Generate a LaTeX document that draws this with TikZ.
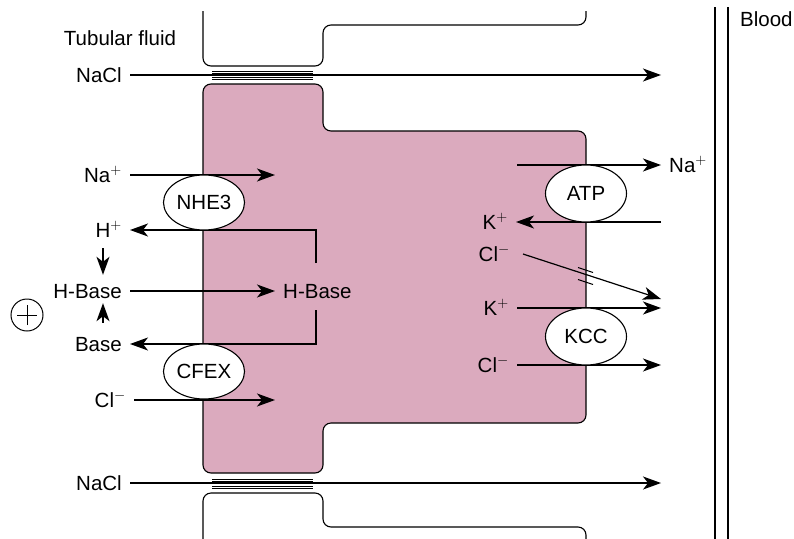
\documentclass[tikz,border=0pt]{standalone}
\usepackage{fontspec}
\setmainfont{Liberation Sans}
\usetikzlibrary{arrows.meta,shapes.geometric}
\definecolor{cellpink}{RGB}{219,170,190}
\begin{document}
\begin{tikzpicture}[x=1pt,y=-1pt,
  lbl/.style={inner ysep=0pt, inner xsep=8pt, text height=14pt, text depth=0pt, font=\fontsize{20.5}{24}\selectfont},
  arr/.style={line width=1.2pt, -{Stealth[length=18pt,width=13pt,inset=5pt]}},
  wall/.style={line width=1.1pt, rounded corners=8pt},
  tj/.style={line width=1pt},
  pump/.style={ellipse, draw, fill=white, line width=1.1pt, minimum width=81pt, minimum height=55pt, inner sep=0pt, font=\fontsize{20.5}{24}\selectfont}]
\useasboundingbox (0,0) rectangle (794,538);
% cell
\draw[wall, fill=cellpink] (203,84) -- (323,84) -- (323,131) -- (586,131) -- (586,423) -- (323,423) -- (323,473) -- (203,473) -- cycle;
\draw[wall] (203,11) -- (203,66) -- (323,66) -- (323,25) -- (586,25) -- (586,11);
\draw[wall] (203,540) -- (203,493) -- (323,493) -- (323,527) -- (586,527) -- (586,540);
% tight junctions
\foreach \yy in {71,73,77,79,479,481,486,488} \draw[tj] (212,\yy) -- (313,\yy);
% blood vessel wall
\draw[line width=1.1pt] (715,7) -- (715,540);
\draw[line width=1.1pt] (728,7) -- (728,540);
\node[lbl, inner sep=0pt, anchor=west] (blood) at (740,20) {Blood};
\node[lbl] (tf) at (120,38) {Tubular fluid};
% left labels
\node[lbl, anchor=east] (naclT) at (130,75) {NaCl};
\node[lbl, anchor=east] (nal) at (130,175) {Na$^+$};
\node[lbl, anchor=east] (hp) at (130,230) {H$^+$};
\node[lbl, anchor=east] (hbl) at (130,291) {H-Base};
\node[lbl, anchor=east] (base) at (130,344) {Base};
\node[lbl, anchor=east] (cll) at (134,400) {Cl$^-$};
\node[lbl, anchor=east] (naclB) at (130,483) {NaCl};
\node[lbl, anchor=west] (hbr) at (275,291) {H-Base};
\node[circle, draw, line width=1pt, minimum size=32pt, inner sep=0pt] (plus) at (27,315) {};
\draw[line width=1pt] ([xshift=-10pt]plus.center) -- ([xshift=10pt]plus.center);
\draw[line width=1pt] ([yshift=-10pt]plus.center) -- ([yshift=10pt]plus.center);
% right labels
\node[lbl, anchor=west] (nar) at (661,165) {Na$^+$};
\node[lbl, anchor=east] (ku) at (516,222) {K$^+$};
\node[lbl, anchor=east, inner xsep=13pt] (clm) at (523,254) {Cl$^-$};
\node[lbl, anchor=east] (kl) at (517,308) {K$^+$};
\node[lbl, anchor=east] (clb) at (517,365) {Cl$^-$};
% free ends
\coordinate (t1) at (661,75);
\coordinate (t2) at (275,175);
\coordinate (t3) at (275,400);
\coordinate (t4) at (661,483);
\coordinate (s1) at (517,165);
\coordinate (s2) at (661,222);
\coordinate (t5) at (661,299);
\coordinate (t6) at (661,308);
\coordinate (t7) at (661,365);
\coordinate (b1) at (316,263);
\coordinate (b2) at (316,230);
\coordinate (b3) at (316,310);
\coordinate (b4) at (316,344);
\coordinate (vx) at (103,0);
% arrows
\draw[arr] (naclT) -- (t1);
\draw[arr] (naclB) -- (t4);
\draw[arr] (nal) -- (t2);
\draw[arr] (cll.east) -- (t3);
\draw[arr] (hbl) -- (hbr);
\draw[arr] (b1) -- (b2) -- (hp.east);
\draw[arr] (b3) -- (b4) -- (base.east);
\draw[arr, shorten <=11pt, shorten >=9pt] (hp.south -| vx) -- (hbl.north -| vx);
\draw[arr, shorten <=14pt, shorten >=5pt] (base.north -| vx) -- (hbl.south -| vx);
\draw[arr] (s1) -- (nar);
\draw[arr] (s2) -- (ku);
\draw[arr] (clm.east) -- (t5);
\draw[arr] (kl) -- (t6);
\draw[arr] (clb) -- (t7);
% channel marks
\draw[line width=1pt] (578,267.5) -- (593,272.5);
\draw[line width=1pt] (578,279.5) -- (593,284.5);
% transporters
\node[pump] (nhe) at (204,202.5) {NHE3};
\node[pump] (cfex) at (204,371.5) {CFEX};
\node[pump, minimum height=57pt] (atp) at (586,193.5) {ATP};
\node[pump, minimum height=57pt] (kcc) at (586,336.5) {KCC};
\end{tikzpicture}
\end{document}
